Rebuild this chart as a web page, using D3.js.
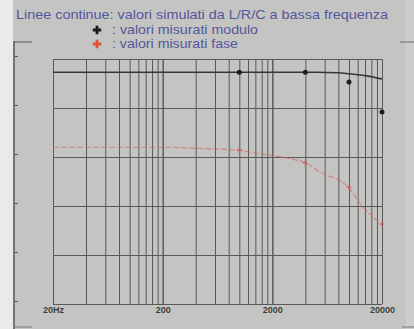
<!DOCTYPE html>
<html>
<head>
<meta charset="utf-8">
<script src="https://cdn.jsdelivr.net/npm/d3@7"></script>
<style>
  html, body { margin: 0; padding: 0; background: #c4c5c2; }
  svg { display: block; }
  .grid line { stroke: #585858; stroke-width: 1; }
  .grid path { display: none; }
  .xlab text { font-family: "Liberation Sans", Arial, sans-serif; font-size: 9px; font-weight: bold; fill: #3e3e3e; }
  .xlab path, .xlab line { display: none; }
  .legend { font-family: "Liberation Sans", Arial, sans-serif; fill: #55559e; }
</style>
</head>
<body>
<script>
const W = 414, H = 329;
const M = { left: 53, right: 32, top: 59, bottom: 25 };

// frequency axis (Hz) and labels
const xTicks = [20, 200, 2000, 20000];
const xTickLabels = ["20Hz", "200", "2000", "20000"];
const yTicks = [0, 1, 2, 3, 4, 5];

// simulated curves (L/R/C model)
const simFreq   = [20, 200, 1000, 2000, 5000, 8000, 10000, 12000, 15000, 20000];
const simModulo = [4.73, 4.73, 4.73, 4.73, 4.73, 4.72, 4.70, 4.68, 4.65, 4.59];
const phaseFreq = [20, 200, 500, 1000, 1400, 2700, 4000, 5500, 10000, 13000, 20000];
const simFase   = [3.20, 3.20, 3.17, 3.14, 3.08, 2.98, 2.88, 2.69, 2.37, 2.02, 1.62];

// measured points
const measFreq   = [1000, 4000, 10000, 20000];
const measModulo = [4.73, 4.73, 4.53, 3.92];
const measFase   = [3.14, 2.88, 2.38, 1.63];

const svg = d3.select("body").append("svg")
  .attr("width", W)
  .attr("height", H);

// page frame (scanned page look)
svg.append("rect").attr("x", 0).attr("y", 0).attr("width", 13).attr("height", H).attr("fill", "#e9ebea");
svg.append("rect").attr("x", 406).attr("y", 0).attr("width", 8).attr("height", H).attr("fill", "#cdcecb");
svg.append("line").attr("x1", 14).attr("x2", 14).attr("y1", 41).attr("y2", H)
  .attr("stroke", "#5a5a5a").attr("stroke-width", 1.5);
svg.append("line").attr("x1", 14).attr("x2", 32).attr("y1", 42).attr("y2", 42)
  .attr("stroke", "#6a6a6a").attr("stroke-width", 1.2);
svg.append("line").attr("x1", 400).attr("x2", 414).attr("y1", 42).attr("y2", 42)
  .attr("stroke", "#7a7a7a").attr("stroke-width", 1.2);
svg.append("line").attr("x1", 14).attr("x2", 32).attr("y1", 327).attr("y2", 327)
  .attr("stroke", "#7a7a7a").attr("stroke-width", 1);
svg.append("line").attr("x1", 402).attr("x2", 414).attr("y1", 327).attr("y2", 327)
  .attr("stroke", "#7a7a7a").attr("stroke-width", 1);

const x = d3.scaleLog().domain([20, 20000]).range([M.left, W - M.right]);
const y = d3.scaleLinear().domain([0, 5]).range([H - M.bottom, M.top]);

// vertical log grid: 1..10 times each decade start
var gridVals = [];
xTicks.slice(0, -1).forEach(d => {
  for (var k = 1; k <= 10; k++) gridVals.push(d * k);
});

svg.append("g")
  .attr("class", "grid")
  .attr("transform", `translate(0,${H - M.bottom})`)
  .call(d3.axisBottom(x).tickValues(gridVals).tickSize(-(H - M.bottom - M.top)).tickFormat(""));

svg.append("g")
  .attr("class", "grid")
  .attr("transform", `translate(${M.left},0)`)
  .call(d3.axisLeft(y).tickValues(yTicks).tickSize(-(W - M.right - M.left)).tickFormat(""));

// small marks on the page frame
svg.append("g")
  .attr("class", "grid")
  .attr("transform", "translate(14,-3)")
  .call(d3.axisRight(y).tickValues(yTicks).tickSize(4).tickFormat(""))
  .selectAll("line").attr("stroke", "#333").attr("stroke-width", 2);

svg.append("g")
  .attr("class", "xlab")
  .attr("transform", `translate(0,${H - M.bottom})`)
  .call(d3.axisBottom(x).tickValues(xTicks).tickSize(0).tickPadding(3)
    .tickFormat((d, i) => xTickLabels[i]));

const line = d3.line()
  .x(d => x(d[0]))
  .y(d => y(d[1]))
  .curve(d3.curveMonotoneX);

svg.append("path")
  .datum(d3.zip(phaseFreq, simFase))
  .attr("d", line)
  .attr("fill", "none")
  .attr("stroke", "#d06a60")
  .attr("stroke-opacity", 0.7)
  .attr("stroke-width", 1.1)
  .attr("stroke-dasharray", "6,2");

svg.append("path")
  .datum(d3.zip(simFreq, simModulo))
  .attr("d", line)
  .attr("fill", "none")
  .attr("stroke", "#363636")
  .attr("stroke-width", 1.6);

svg.selectAll("circle.mod")
  .data(d3.zip(measFreq, measModulo))
  .enter()
  .append("circle")
  .attr("class", "mod")
  .attr("cx", d => x(d[0]))
  .attr("cy", d => y(d[1]))
  .attr("r", 2.5)
  .attr("fill", "#1e1e1e");

svg.selectAll("path.fase")
  .data(d3.zip(measFreq, measFase))
  .enter()
  .append("path")
  .attr("class", "fase")
  .attr("d", d3.symbol(d3.symbolCross, 14))
  .attr("transform", d => `translate(${x(d[0])},${y(d[1])})`)
  .attr("fill", "#d0584c")
  .attr("fill-opacity", 0.6);

// legend text
svg.append("text").attr("class", "legend")
  .attr("x", 16).attr("y", 19)
  .attr("font-size", "12.6px")
  .attr("textLength", 372).attr("lengthAdjust", "spacingAndGlyphs")
  .text("Linee continue: valori simulati da L/R/C a bassa frequenza");

svg.append("path")
  .attr("d", d3.symbol(d3.symbolCross, 40))
  .attr("transform", "translate(97,30)")
  .attr("fill", "#1a1a1a");
svg.append("text").attr("class", "legend")
  .attr("x", 112).attr("y", 34)
  .attr("font-size", "12.6px")
  .attr("textLength", 146).attr("lengthAdjust", "spacingAndGlyphs")
  .text(": valori misurati modulo");

svg.append("path")
  .attr("d", d3.symbol(d3.symbolCross, 40))
  .attr("transform", "translate(97,44)")
  .attr("fill", "#e0553f");
svg.append("text").attr("class", "legend")
  .attr("x", 112).attr("y", 48)
  .attr("font-size", "12.6px")
  .attr("textLength", 126).attr("lengthAdjust", "spacingAndGlyphs")
  .text(": valori misurati fase");
</script>
</body>
</html>
